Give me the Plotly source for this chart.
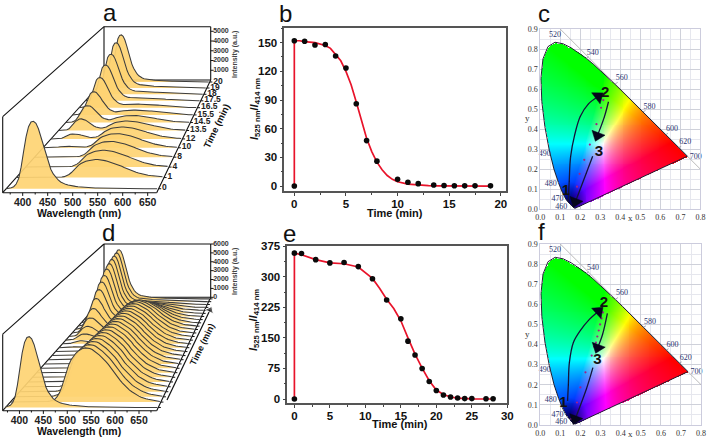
import numpy as np
import plotly.graph_objects as go

W, H = 709, 439
# ---------- spectra: digitised band shapes on a 5 nm grid ----------
wl_grid = list(range(360, 695, 5))
blue_band = [0,.005,.015,.03,.07,.15,.32,.55,.77,.92,
 .99,1,.97,.89,.77,.63,.5,.38,.29,.22,
 .17,.13,.1,.08,.065,.055,.045,.04,.035,.03,
 .026,.022,.018,.016,.014,.012,.011,.01,.009,.008,
 .007,.006,.006,.005,.005,.004,.004,.003,.003,.002,
 .002,.002,.002,.001,.001,.001,.001,.001,.001,0,
 0,0,0,0,0,0,0]
green_band = [0,0,0,0,0,0,0,0,0,0,
 0,0,0,0,0,0,.005,.01,.02,.03,
 .05,.1,.17,.28,.43,.58,.69,.78,.85,.9,
 .94,.97,.99,1,1,.99,.97,.94,.91,.87,
 .83,.79,.74,.69,.63,.56,.5,.45,.4,.35,
 .3,.26,.22,.19,.16,.13,.11,.09,.07,.06,
 .05,.04,.03,.02,.015,.01,.005]
times_a = ['0','1','4','8','10','12','13.5','14.5','15.5','16.5','17.5','18','19','20']
green_a = [0,1350,1300,1250,1150,1000,800,600,400,280,200,150,100,60]
blue_a = [4900,20,30,60,120,420,1000,1500,2100,2800,3400,3900,4500,4800]
green_d = [0,4350,4250,4150,4050,3950,3850,3750,3660,3570,3480,3400,3320,3240,3150,3060,2970,2880,2750,2550,
           2300,1900,1500,1100,800,500,300,150,50]
blue_d = [5600,20,20,20,20,20,20,20,20,20,20,30,50,100,300,600,1000,1500,2100,2800,
          3400,3900,4300,4700,5000,5200,5300,5400,5500]
wl_ticks = [400,450,500,550,600,650]
# ---------- ratio panels ----------
b_t = [0,0,1,2,3,4,5,6,7,8,10,11,12,13.5,14.5,15.5,16.5,17.5,19]
b_r = [0,152,151.5,147.5,148,136,123.5,86,47.5,26,7,4,2.5,1,.6,.3,.2,.2,.2]
b_ft = [0,0,.5,1,2,3,3.5,4,4.5,5,5.5,6,6.5,7,7.5,8,8.5,9,9.5,10,11,12,13,14,16,19]
b_fr = [0,152,152,151,150,147,144,138,131,120,106,88,68,50,36,25,17,11,7,4.5,2,.8,.4,.2,0,0]
e_t = [0,0,1,3,5,7,9,11,13,15,16,17,18,19,20,21,22,23,24,25,27,28]
e_r = [0,358,357,342,334,335,325,295,243,197,142,108,75,43,21,10,5,2.5,1,1,.5,.5]
e_ft = [0,0,1,3,5,7,9,11,12,13,14,15,16,17,18,19,20,21,22,23,25,28]
e_fr = [0,358,354,342,334,332,324,296,272,245,222,192,150,110,76,45,22,11,5,2,.5,0]
# ---------- CIE 1931 locus ----------
loc_nm = [380,400,410,420,430,440,450,460,465,470,475,480,485,490,495,500,505,510,515,520,525,530,535,540,545,550,555,560,565,570,575,580,585,590,595,600,605,610,615,620,625,630,640,650,660,670,680,700]
loc_x = [.1741,.1733,.1726,.1714,.1689,.1644,.1566,.1440,.1355,.1241,.1096,.0913,.0687,.0454,.0235,.0082,.0039,.0139,.0389,.0743,.1142,.1547,.1929,.2296,.2658,.3016,.3373,.3731,.4087,.4441,.4788,.5125,.5448,.5752,.6029,.6270,.6482,.6658,.6801,.6915,.7006,.7079,.7190,.7260,.7300,.7320,.7334,.7347]
loc_y = [.0050,.0048,.0048,.0051,.0069,.0109,.0177,.0297,.0399,.0578,.0868,.1327,.2007,.2950,.4127,.5384,.6548,.7502,.8120,.8338,.8262,.8059,.7816,.7543,.7243,.6923,.6589,.6245,.5896,.5547,.5202,.4866,.4544,.4242,.3965,.3725,.3514,.3340,.3197,.3083,.2993,.2920,.2809,.2740,.2700,.2680,.2666,.2653]
cie_lab = ['520','540','560','580','600','620','700','500','490','480','470','460','380']
cie_lx = [.074,.262,.407,.546,.658,.724,.777,-.033,.023,.053,.086,.105,.217]
cie_ly = [.870,.782,.654,.513,.399,.334,.263,.539,.275,.125,.050,.013,-.003]
cie_nm = [520,540,560,580,600,620,700,500,490,480,470,460,380]
c_dots_x = [.315,.304,.281,.248,.220,.197,.184,.168]
c_dots_y = [.545,.507,.425,.323,.247,.177,.113,.047]
f_dots_x = [.312,.305,.298,.291,.284,.277,.268,.256,.225,.2,.183,.155]
f_dots_y = [.56,.53,.5,.47,.44,.41,.39,.345,.262,.187,.112,.03]
c_a1x, c_a1y = [.14,.145,.152,.172,.2,.24,.29], [.038,.14,.263,.37,.463,.525,.563]
c_a2x, c_a2y = [.341,.32,.286], [.537,.46,.368]
c_a3x, c_a3y = [.262,.23,.176], [.265,.18,.038]
f_a1x, f_a1y = [.136,.14,.145,.165,.2,.24,.29], [.12,.2,.31,.41,.47,.52,.565]
f_a2x, f_a2y = [.334,.31,.286], [.555,.45,.385]
f_a3x, f_a3y = [.262,.23,.174], [.285,.18,.03]
c_num = [('1',.129,.088),('2',.324,.578),('3',.293,.285)]
f_num = [('1',.116,.11),('2',.317,.607),('3',.285,.32)]

YEL = 'rgba(254,212,115,0.92)'
LINE = '#3d3d3d'
SANS = 'Liberation Sans, Arial, sans-serif'
SERIF = 'Liberation Serif, Times New Roman, serif'
fig = go.Figure()

def add(x, y, **k):
    fig.add_trace(go.Scatter(x=x, y=y, showlegend=False, hoverinfo='skip', **k))

def waterfall(geo, green, blue, times, ymax, yticks, wmin, wmax, u0):
    FL, FR, BL, BR, Hf, Hb = geo
    r = Hb / Hf
    kk = 1 / r - 1
    def dep(u):
        return (1 - 1 / (1 + kk * u)) / (1 - r)
    def proj(w, I, u):
        d = dep(u)
        L = FL[0] + (BL[0] - FL[0]) * d
        R = FR[0] + (BR[0] - FR[0]) * d
        B = FL[1] + (BL[1] - FL[1]) * d
        Ht = Hf + (Hb - Hf) * d
        return L + (np.asarray(w, float) - wmin) / (wmax - wmin) * (R - L), B - np.asarray(I, float) / ymax * Ht
    frame = [(BL, (BL[0], BL[1] - Hb)), ((BL[0], BL[1] - Hb), (BR[0], BR[1] - Hb)),
             ((BL[0], BL[1] - Hb), (FL[0], FL[1] - Hf)), ((FL[0], FL[1] - Hf), FL),
             ((BR[0], BR[1] - Hb), BR), (FL, BL), (BL, BR)]
    xs, ys = [], []
    for a, b in frame:
        xs += [a[0], b[0], None]; ys += [a[1], b[1], None]
    add(xs, ys, mode='lines', line=dict(color='#111', width=1.1), xaxis='x', yaxis='y')
    n = len(green)
    g = np.array(wl_grid, float)
    mask = (g >= wmin) & (g <= wmax)
    gb, bb = np.array(green_band)[mask], np.array(blue_band)[mask]
    g = g[mask]
    for i in range(n - 1, -1, -1):
        u = u0 + (1 - 2 * u0) * i / (n - 1)
        I = green[i] * gb + blue[i] * bb
        px, py = proj(g, I, u)
        bx, by = proj([g[-1], g[0]], [0, 0], u)
        add(list(px) + list(bx), list(py) + list(by), mode='lines', line=dict(width=0), fill='toself', fillcolor=YEL, xaxis='x', yaxis='y')
        add(px, py, mode='lines', line=dict(color=LINE, width=1.05), xaxis='x', yaxis='y')
    add([FL[0], FR[0]], [FL[1], FR[1]], mode='lines', line=dict(color='#111', width=1.1), xaxis='x', yaxis='y')
    add([FR[0], BR[0]], [FR[1], BR[1]], mode='lines', line=dict(color='#111', width=1.1), xaxis='x', yaxis='y')
    tx, ty = [], []
    for w in range(375, int(wmax), 25):
        x0 = FL[0] + (w - wmin) / (wmax - wmin) * (FR[0] - FL[0])
        tx += [x0, x0, None]; ty += [FL[1], FL[1] + (3.2 if w % 50 == 0 else 1.8), None]
    add(tx, ty, mode='lines', line=dict(color='#111', width=1), xaxis='x', yaxis='y')
    add([FL[0] + (w - wmin) / (wmax - wmin) * (FR[0] - FL[0]) for w in wl_ticks], [FL[1] + 11] * len(wl_ticks),
        mode='text', text=[f'<b>{w}</b>' for w in wl_ticks], textfont=dict(family=SANS, size=10.5, color='#222'),
        textposition='middle center', xaxis='x', yaxis='y')
    tx, ty = [], []
    for v in yticks:
        yy = BR[1] - v / ymax * Hb
        tx += [BR[0], BR[0] + 3, None]; ty += [yy, yy, None]
    add(tx, ty, mode='lines', line=dict(color='#111', width=1), xaxis='x', yaxis='y')
    add([BR[0] + 2.5] * len(yticks), [BR[1] - v / ymax * Hb for v in yticks], mode='text', text=[f'<b>{v}</b>' for v in yticks],
        textposition='middle right', textfont=dict(family=SANS, size=7, color='#333'), xaxis='x', yaxis='y')
    tx, ty, lx, ly = [], [], [], []
    for i in range(n):
        u = u0 + (1 - 2 * u0) * i / (n - 1)
        px, py = proj(wmax, 0, u)
        tx += [float(px), float(px) + 2.6, None]; ty += [float(py), float(py), None]
        lx.append(float(px) + 3.5); ly.append(float(py) - .5)
    add(tx, ty, mode='lines', line=dict(color='#111', width=1), xaxis='x', yaxis='y')
    if times:
        add(lx, ly, mode='text', text=[f'<b>{t}</b>' for t in times], textposition='middle right',
            textfont=dict(family=SANS, size=8.5, color='#222'), xaxis='x', yaxis='y')

waterfall(((2.7, 192.7), (156.7, 192.7), (104, 80), (210.7, 80), 76, 53.3), green_a, blue_a, times_a, 5470,
          [1000,2000,3000,4000,5000], 360, 668, .025)
waterfall(((2.7, 410.7), (156.7, 410.7), (104, 297.3), (210.7, 297.3), 76.5, 53.3), green_d, blue_d, None, 6000,
          [0,1000,2000,3000,4000,5000,6000], 365, 687, .02)
add([167, 210], [400, 310], mode='lines+markers', xaxis='x', yaxis='y', line=dict(color='#111', width=1.2),
    marker=dict(symbol=['circle', 'triangle-up'], size=[0.1, 8], angleref='previous', color='#111'))

def ratio(ax, t, r, ft, fr):
    add(ft, fr, mode='lines', line=dict(color='#e8132a', width=1.7), xaxis='x' + ax, yaxis='y' + ax)
    add(t, r, mode='markers', marker=dict(color='#0a0a0a', size=5.6), xaxis='x' + ax, yaxis='y' + ax)
ratio('2', b_t, b_r, b_ft, b_fr)
ratio('3', e_t, e_r, e_ft, e_fr)

def cie_img():
    nx, ny = 170, 186
    xs = np.linspace(0, .8, nx); ys = np.linspace(0, .9, ny)
    X, Y = np.meshgrid(xs, ys)
    Z = np.clip(1 - X - Y, 0, None)
    YY = np.where(Y > 1e-3, Y, 1e-3)
    XX, ZZ = X / YY, Z / YY
    R = 3.2406 * XX - 1.5372 - .4986 * ZZ
    G = -.9689 * XX + 1.8758 + .0415 * ZZ
    B = .0557 * XX - .2040 + 1.0570 * ZZ
    rgb = np.clip(np.stack([R, G, B], -1), 0, None)
    rgb = rgb / np.maximum(rgb.max(-1, keepdims=True), 1e-6)
    rgb = rgb ** (1 / 1.25)
    # the blue corner of the reference darkens towards the locus
    dist = np.hypot(X - .14, (Y - .02) * .8)
    shade = np.clip(.25 + dist / .13, 0, 1)
    rgb = rgb * shade[..., None] * 255
    px, py = np.array(loc_x), np.array(loc_y)
    ins = np.zeros(X.shape, bool)
    for i in range(len(px)):
        j = (i + 1) % len(px)
        c = ((py[i] > Y) != (py[j] > Y)) & (X < (px[j] - px[i]) * (Y - py[i]) / (py[j] - py[i] + 1e-12) + px[i])
        ins ^= c
    a = ins.astype(float)
    return np.dstack([rgb, a]), xs[1] - xs[0], ys[1] - ys[0]
img, dx, dy = cie_img()

def cie(ax, dotsx, dotsy, a1, a2, a3, nums):
    xa, ya = 'x' + ax, 'y' + ax
    fig.add_trace(go.Image(z=img, colormodel='rgba', x0=0, y0=0, dx=dx, dy=dy, xaxis=xa, yaxis=ya, hoverinfo='skip'))
    add([.1, .8], [.9, .2], mode='lines', line=dict(color='#aaa', width=.8), xaxis=xa, yaxis=ya)
    add(loc_x + loc_x[:1], loc_y + loc_y[:1], mode='lines', line=dict(color='#223', width=1), xaxis=xa, yaxis=ya)
    lx, ly = [], []
    for nm, tx, ty in zip(cie_nm, cie_lx, cie_ly):
        if nm in (540, 560, 580, 600, 620):
            i = loc_nm.index(nm)
            lx += [loc_x[i], tx - .02, None]; ly += [loc_y[i], ty - .02, None]
    add(lx, ly, mode='lines', line=dict(color='#889', width=.7), xaxis=xa, yaxis=ya)
    add(cie_lx, cie_ly, mode='text', text=cie_lab, textposition='middle center', cliponaxis=False,
        textfont=dict(family=SERIF, size=8, color='#2c3570'), xaxis=xa, yaxis=ya)
    add(dotsx, dotsy, mode='markers', marker=dict(size=2.2, color='#a0208a'), xaxis=xa, yaxis=ya)
    for ax_, ay_ in (a1, a2, a3):
        sz = [.1] * (len(ax_) - 1) + [12]
        sym = ['circle'] * (len(ax_) - 1) + ['triangle-up']
        add(ax_, ay_, mode='lines+markers', line=dict(color='#14143a', width=1.3, shape='spline'),
            marker=dict(symbol=sym, size=sz, angleref='previous', color='#05051c', line=dict(width=.5, color='#05051c'), opacity=1), xaxis=xa, yaxis=ya)
    add([n[1] for n in nums], [n[2] for n in nums], mode='text', text=[f'<b>{n[0]}</b>' for n in nums],
        textfont=dict(family=SANS, size=15, color='#111'), xaxis=xa, yaxis=ya)
cie('4', c_dots_x, c_dots_y, (c_a1x, c_a1y), (c_a2x, c_a2y), (c_a3x, c_a3y), c_num)
cie('5', f_dots_x, f_dots_y, (f_a1x, f_a1y), (f_a2x, f_a2y), (f_a3x, f_a3y), f_num)

def dom(l, r, t, b):
    return dict(domain=[l / W, r / W]), dict(domain=[1 - b / H, 1 - t / H])
layout = dict(width=W, height=H, margin=dict(l=0, r=0, t=0, b=0, pad=0, autoexpand=False), paper_bgcolor='white', plot_bgcolor='rgba(0,0,0,0)',
              showlegend=False)
layout['xaxis'] = dict(domain=[0, 1], range=[0, W], visible=False, fixedrange=True, automargin=False)
layout['yaxis'] = dict(domain=[0, 1], range=[H, 0], visible=False, fixedrange=True, automargin=False)
def ratio_axes(n, box, xr, yr, xd, yd):
    xa, ya = dom(*box)
    tf = dict(family=SANS, size=11.5, color='#111')
    common = dict(showgrid=False, zeroline=False, showline=True, mirror=True, linecolor='#555', linewidth=1.5, ticks='outside',
                  tickcolor='#444', ticklen=3, tickfont=tf, tickprefix='<b>', ticksuffix='</b>')
    layout['xaxis' + n] = dict(**xa, **common, range=xr, dtick=xd, tick0=0, anchor='y' + n, ticklabelstandoff=-2,
                               minor=dict(dtick=xd / 2, ticks='outside', ticklen=2, tickcolor='#444'))
    layout['yaxis' + n] = dict(**ya, **common, range=yr, dtick=yd, tick0=0, anchor='x' + n, minor=dict(dtick=yd / 2, ticks='outside', ticklen=2, tickcolor='#444'))
ratio_axes('2', (284.3, 506, 28.3, 191), [-.97, 20.5], [-5.2, 165], 5, 30)
ratio_axes('3', (287.3, 507.3, 246, 403.3), [-1, 30], [-10.5, 375.5], 5, 75)
def cie_axes(n, box):
    xa, ya = dom(*box)
    tf = dict(family=SERIF, size=8, color='#333')
    common = dict(showgrid=True, gridcolor='#cfd1da', gridwidth=.8, zeroline=False, showline=True, mirror=True, linecolor='#ccd',
                  linewidth=.8, ticks='', tickfont=tf, tickformat='.1f', dtick=.1, tick0=0, ticklen=0,
                  minor=dict(dtick=.05, showgrid=True, gridcolor='#e6e7ee', gridwidth=.6))
    layout['xaxis' + n] = dict(**xa, **common, range=[0, .8], anchor='y' + n)
    layout['yaxis' + n] = dict(**ya, **common, range=[0, .9], anchor='x' + n)
cie_axes('4', (539.3, 701.3, 29, 209.3))
cie_axes('5', (540, 701.3, 244, 425))

def note(px, py, text, size=12, angle=0, font=SANS, color='#111'):
    return dict(x=px / W, y=1 - py / H, xref='paper', yref='paper', text=text, showarrow=False, textangle=angle,
                font=dict(family=font, size=size, color=color), xanchor='center', yanchor='middle')
ratio_title = '<b><i>I</i><sub>525 nm</sub>/<i>I</i><sub>414 nm</sub></b>'
anns = [note(110, 13, 'a', 24), note(285.5, 14, 'b', 24), note(544, 14, 'c', 24),
        note(108, 232, 'd', 24), note(289.7, 233, 'e', 24), note(541, 231, 'f', 24),
        note(79, 213, '<b>Wavelength (nm)</b>', 10.5), note(79, 431, '<b>Wavelength (nm)</b>', 10.5),
        note(217, 126, '<b>Time (min)</b>', 9.5, -64), note(202, 345, '<b>Time (min)</b>', 9, -64),
        note(235, 55, '<b>Intensity (a.u.)</b>', 7, -90, color='#444'), note(235, 272, '<b>Intensity (a.u.)</b>', 7, -90, color='#444'),
        note(395, 213, '<b>Time (min)</b>', 11), note(400, 424, '<b>Time (min)</b>', 11),
        note(255, 109, ratio_title, 11, -90), note(254, 320, ratio_title, 11, -90),
        note(630, 218, 'x', 9, font=SERIF, color='#333'), note(527.7, 118, 'y', 9, font=SERIF, color='#333'),
        note(630, 434, 'x', 9, font=SERIF, color='#333'), note(527.7, 334, 'y', 9, font=SERIF, color='#333')]
layout['annotations'] = anns
fig.update_layout(**layout)
fig.write_html('out.html', config=dict(displayModeBar=False),
               post_script="document.body.style.margin='0';document.documentElement.style.overflow='hidden';")
